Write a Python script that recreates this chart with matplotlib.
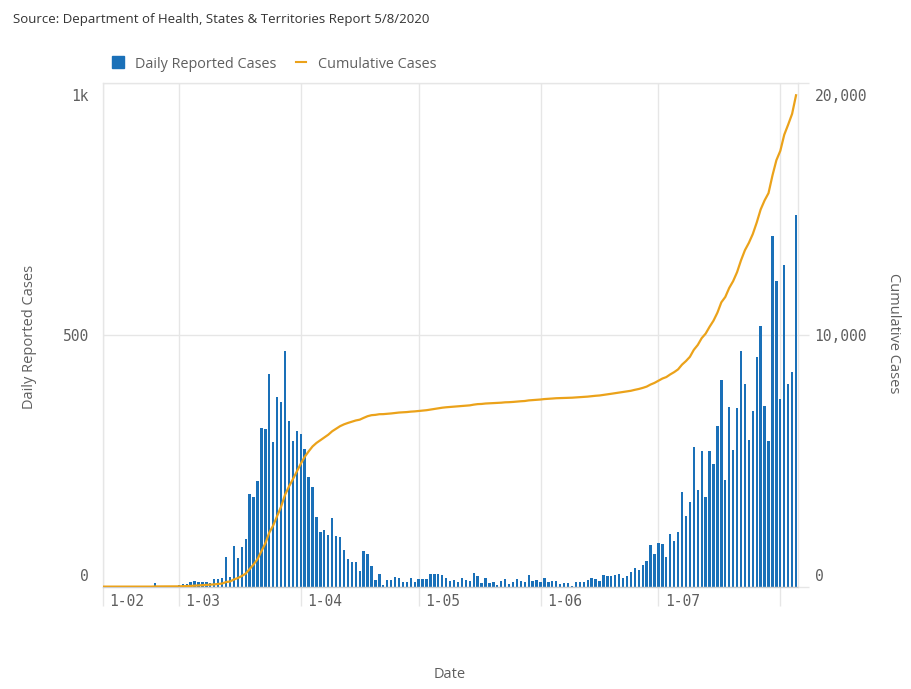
import numpy as np
import pandas as pd
import matplotlib
matplotlib.use("Agg")
import matplotlib.pyplot as plt
import matplotlib.dates as mdates
from matplotlib.lines import Line2D
from matplotlib.transforms import ScaledTranslation

# daily reported cases (10 Feb - 5 Aug 2020)
feb_cases = [0, 0, 0, 0, 0, 0, 0, 0, 0, 0,
             0, 0, 0, 0, 7, 0, 0, 0, 0, 0]
mar_cases = [3, 5, 5, 9, 11, 9, 9, 9, 7, 15,
             16, 17, 60, 20, 81, 58, 79, 96, 184, 179,
             210, 315, 314, 423, 288, 376, 367, 468, 330, 290, 309]
apr_cases = [303, 274, 218, 198, 139, 109, 114, 104, 137, 101,
             100, 73, 56, 49, 49, 32, 71, 66, 41, 13,
             26, 3, 13, 14, 19, 17, 10, 9, 17, 10]
may_cases = [15, 16, 16, 25, 25, 25, 24, 17, 12, 13,
             9, 17, 13, 12, 28, 21, 7, 17, 8, 10,
             3, 12, 15, 5, 10, 15, 12, 10, 24, 12, 13]
jun_cases = [10, 18, 9, 12, 12, 5, 7, 7, 2, 10,
             10, 10, 13, 18, 15, 12, 24, 22, 22, 23,
             26, 18, 22, 30, 38, 33, 43, 51, 83, 65]
jul_cases = [87, 85, 59, 105, 91, 110, 188, 141, 168, 278,
             193, 270, 179, 270, 244, 319, 410, 212, 358, 271,
             356, 468, 403, 291, 350, 457, 518, 360, 290, 697, 607]
aug_cases = [373, 638, 403, 426, 738]
cases_before_start = 15

# the Aug gridline has no label in the original
month_labels = ['1-02', '1-03', '1-04', '1-05', '1-06', '1-07', '']
month_starts = ['2020-03-01', '2020-04-01', '2020-05-01', '2020-06-01', '2020-07-01', '2020-08-01']

BLUE = '#1a70b8'
ORANGE = '#eba21a'
GRID = '#e6e6e6'
TXT = '#5f5f5f'

daily = np.array(feb_cases + mar_cases + apr_cases + may_cases + jun_cases + jul_cases + aug_cases)
dates = pd.date_range('2020-02-10', periods=len(daily), freq='D')
cumulative = cases_before_start + np.cumsum(daily)

plt.rcParams['font.family'] = ['Open Sans', 'DejaVu Sans']
mono = 'DejaVu Sans Mono'

fig = plt.figure(figsize=(9.11, 6.89), dpi=100)
ax = fig.add_axes([103/911, 1-587/689, 695/911, 504/689])
ax2 = ax.twinx()

ax.bar(dates, daily, width=0.6, color=BLUE, zorder=2)
ax2.plot(dates, cumulative, color=ORANGE, lw=1.6, zorder=3)

mar1 = mdates.date2num(pd.Timestamp('2020-03-01'))
x0, x1 = mar1 - 19.3, mar1 + 157.5
ax.set_xlim(x0, x1)
ax.set_ylim(0, 1000)
ax2.set_ylim(0, 20000)

ax.set_xticks([x0] + [mdates.date2num(pd.Timestamp(d)) for d in month_starts])
ax.set_xticklabels(month_labels, fontfamily=mono)
ax.tick_params(axis='x', length=14, width=1.0, color=GRID, pad=-9, labelsize=10.5, labelcolor=TXT)
offset = ScaledTranslation(4.5/72, 0, fig.dpi_scale_trans)
for lab in ax.get_xticklabels():
    lab.set_ha('left')
    lab.set_transform(lab.get_transform() + offset)

ax.set_yticks([0, 500, 1000])
ax.set_yticklabels(['0', '500', '1k'], fontfamily=mono)
ax.tick_params(axis='y', length=0, pad=10, labelsize=10.5, labelcolor=TXT)
down = ScaledTranslation(0, -4/72, fig.dpi_scale_trans)
up = ScaledTranslation(0, 2/72, fig.dpi_scale_trans)
ylabs = ax.get_yticklabels()
ylabs[0].set_va('bottom')
ylabs[0].set_transform(ylabs[0].get_transform() + up)
ylabs[2].set_va('top')
ylabs[2].set_transform(ylabs[2].get_transform() + down)

ax2.set_yticks([0, 10000, 20000])
ax2.set_yticklabels(['0', '10,000', '20,000'], fontfamily=mono)
ax2.tick_params(axis='y', length=8, width=1.0, color=GRID, pad=4, labelsize=10.5, labelcolor=TXT)
rlabs = ax2.get_yticklabels()
rlabs[0].set_va('bottom')
rlabs[0].set_transform(rlabs[0].get_transform() + up)
rlabs[2].set_va('top')
rlabs[2].set_transform(rlabs[2].get_transform() + down)

ax.set_axisbelow(True)
ax.grid(True, color=GRID, lw=1.0)
for s in ['left', 'top', 'right']:
    ax.spines[s].set_color(GRID)
    ax.spines[s].set_linewidth(1.0)
ax.spines['bottom'].set_color('#cccccc')
ax.spines['bottom'].set_linewidth(1.0)
for s in ax2.spines.values():
    s.set_visible(False)

fig.text(13/911, 1-20/689, 'Source: Department of Health, States & Territories Report 5/8/2020',
         fontsize=9.5, color='#333333', ha='left', va='center')
fig.text(30/911, 1-337/689, 'Daily Reported Cases', rotation=90, fontsize=10.5, color=TXT,
         ha='center', va='center')
fig.text(893/911, 1-333/689, 'Cumulative Cases', rotation=270, fontsize=10.5, color=TXT,
         ha='center', va='center')
fig.text(450/911, 1-674/689, 'Date', fontsize=10.5, color=TXT, ha='center', va='center')

handles = [Line2D([], [], marker='s', color=BLUE, linestyle='None', markersize=8),
           Line2D([], [], color=ORANGE, lw=1.5)]
fig.legend(handles, ['Daily Reported Cases', 'Cumulative Cases'], loc='center left',
           bbox_to_anchor=(113/911, 1-64/689), ncol=2, frameon=False, fontsize=10.4,
           labelcolor=TXT, handlelength=0.7, handletextpad=0.8, columnspacing=1.4,
           borderaxespad=0, borderpad=0)

fig.savefig('out.png', dpi=100)
